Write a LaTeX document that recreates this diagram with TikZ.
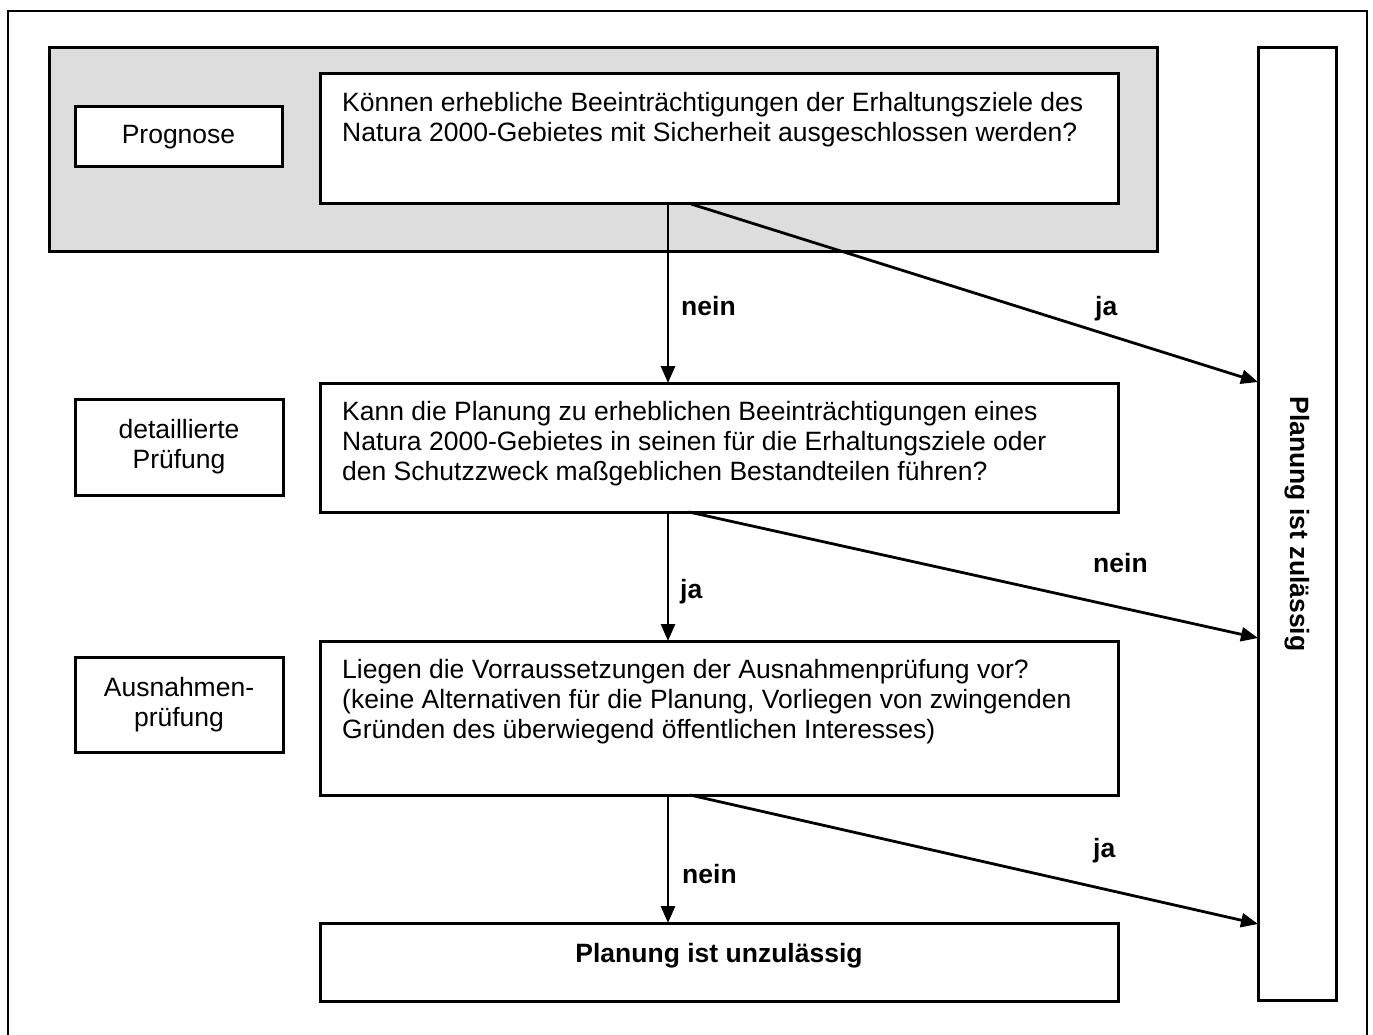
\documentclass[tikz,border=0pt]{standalone}
\usepackage{fontspec}
\setmainfont{Liberation Sans}
\usetikzlibrary{arrows.meta}
\definecolor{grayfill}{RGB}{221,221,221}

\begin{document}
\begin{tikzpicture}[x=1pt,y=-1pt,
  box/.style={draw,line width=3pt,fill=white,outer sep=0pt,inner sep=0pt},
  txt/.style={font=\fontsize{26.5}{30}\selectfont},
  qtxt/.style={txt,align=left,anchor=base west,inner sep=0pt},
  lbl/.style={font=\fontsize{26.5}{30}\selectfont\bfseries,anchor=base west,inner sep=0pt},
  arr/.style={line width=2.8pt,-{Triangle[length=17pt,width=14pt]}}]
\useasboundingbox (0,0) rectangle (1373,1035);
\draw[line width=2pt] (8,1045) -- (8,11) -- (1367,11) -- (1367,1045);

\node[box,fill=grayfill,minimum width=1108pt,minimum height=203pt] (progarea) at (603,149.5) {};
\node[box,txt,minimum width=207pt,minimum height=60pt] (prog) at (178.5,137) {Prognose};
\node[box,minimum width=798pt,minimum height=130pt] (q1) at (719,139) {};
\node[qtxt] (q1text) at ([shift={(22pt,-68pt)}]q1.north west)
  {Können erhebliche Beeinträchtigungen der Erhaltungsziele des\\
   Natura 2000-Gebietes mit Sicherheit ausgeschlossen werden?};

\node[box,txt,align=center,minimum width=208pt,minimum height=96pt] (det) at (179,447) {detaillierte\\Prüfung};
\node[box,minimum width=798pt,minimum height=129pt] (q2) at (719,447.5) {};
\node[qtxt] (q2text) at ([shift={(22pt,-97pt)}]q2.north west)
  {Kann die Planung zu erheblichen Beeinträchtigungen eines\\
   Natura 2000-Gebietes in seinen für die Erhaltungsziele oder\\
   den Schutzzweck maßgeblichen Bestandteilen führen?};

\node[box,txt,align=center,minimum width=208pt,minimum height=95pt] (aus) at (179,704.5) {Ausnahmen-\\prüfung};
\node[box,minimum width=798pt,minimum height=154pt] (q3) at (719,718) {};
\node[qtxt] (q3text) at ([shift={(22pt,-97pt)}]q3.north west)
  {Liegen die Vorraussetzungen der Ausnahmenprüfung vor?\\
   (keine Alternativen für die Planung, Vorliegen von zwingenden\\
   Gründen des überwiegend öffentlichen Interesses)};

\node[box,minimum width=798pt,minimum height=78pt] (unzul) at (719,962) {};
\node[lbl,anchor=base] (unzultext) at ([yshift=-39pt]unzul.north) {Planung ist unzulässig};

\node[box,minimum width=78pt,minimum height=952pt] (zul) at (1297,524) {};
\node[lbl,anchor=center,rotate=-90] (zultext) at (zul.center) {Planung ist zulässig};

\draw[arr] ([xshift=-51pt]q1.south) -- ([xshift=-51pt]q2.north);
\draw[arr] ([xshift=-28pt]q1.south) -- ([yshift=142pt]zul.west);
\node[lbl] (nein1) at (681,315) {nein};
\node[lbl] (ja1) at (1095,315) {ja};

\draw[arr] ([xshift=-51pt]q2.south) -- ([xshift=-51pt]q3.north);
\draw[arr] ([xshift=-30pt]q2.south) -- ([yshift=-114pt]zul.west);
\node[lbl] (ja2) at (680,598) {ja};
\node[lbl] (nein2) at (1093,572) {nein};

\draw[arr] ([xshift=-51pt]q3.south) -- ([xshift=-51pt]unzul.north);
\draw[arr] ([xshift=-29pt]q3.south) -- ([yshift=-400pt]zul.west);
\node[lbl] (nein3) at (682,883) {nein};
\node[lbl] (ja3) at (1093,857) {ja};
\end{tikzpicture}
\end{document}
